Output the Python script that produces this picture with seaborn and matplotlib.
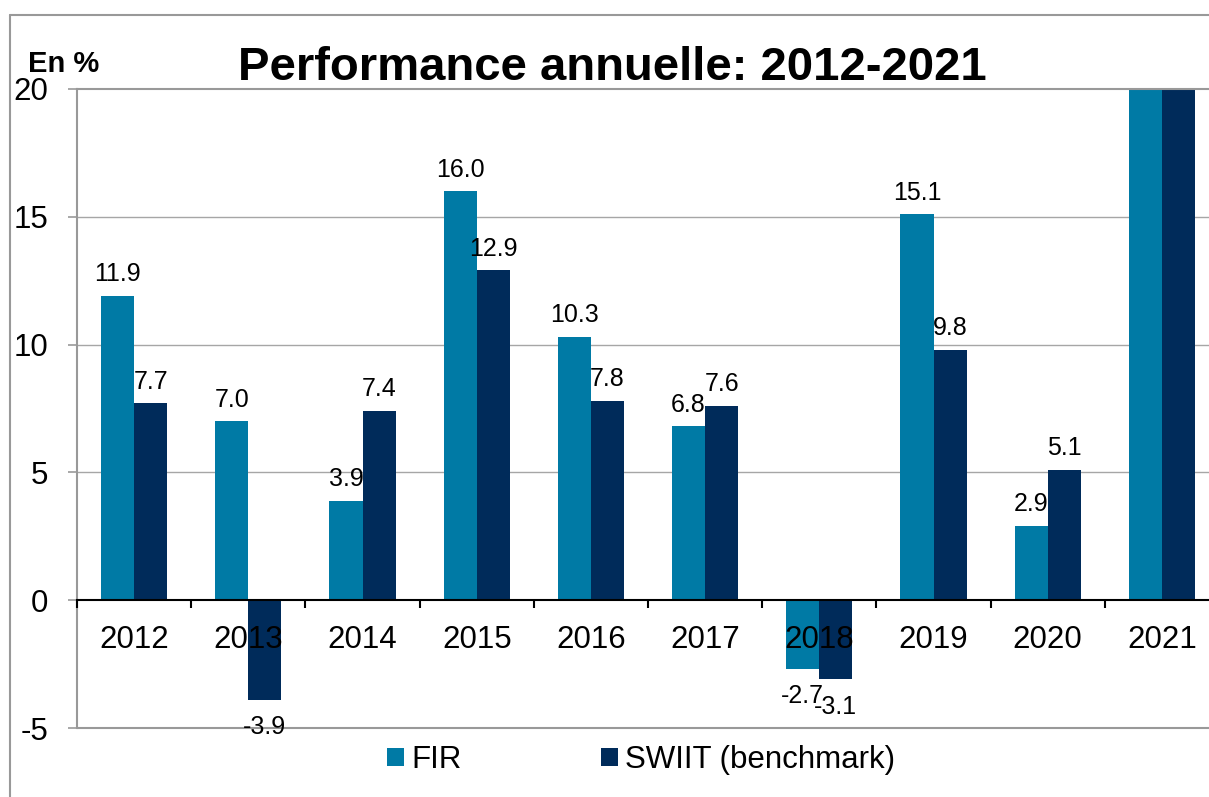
import matplotlib
matplotlib.use('Agg')
import matplotlib.pyplot as plt
import seaborn as sns
import pandas as pd
from matplotlib.patches import Patch
from matplotlib.lines import Line2D
from matplotlib.ticker import FixedLocator

years = ['2012', '2013', '2014', '2015', '2016', '2017', '2018', '2019', '2020', '2021']
fir = [11.9, 7.0, 3.9, 16.0, 10.3, 6.8, -2.7, 15.1, 2.9, 22.0]
swiit = [7.7, -3.9, 7.4, 12.9, 7.8, 7.6, -3.1, 9.8, 5.1, 22.0]
series_names = ['FIR', 'SWIIT (benchmark)']
colors = ['#007AA5', '#002B5A']
y_ticks = [-5, 0, 5, 10, 15, 20]

sns.set_theme(style='white')
plt.rcParams['font.family'] = ['Liberation Sans', 'DejaVu Sans']
plt.rcParams['axes.unicode_minus'] = False
plt.rcParams['text.color'] = 'black'
plt.rcParams['xtick.color'] = 'black'
plt.rcParams['ytick.color'] = 'black'
plt.rcParams['axes.labelcolor'] = 'black'

df = pd.DataFrame({
    'year': years * 2,
    'value': fir + swiit,
    'series': [series_names[0]] * len(years) + [series_names[1]] * len(years),
})

fig = plt.figure(figsize=(12.09, 7.97), dpi=100)
ax = fig.add_axes([77 / 1209, 1 - 728 / 797, 1142 / 1209, (728 - 89) / 797])

sns.barplot(data=df, x='year', y='value', hue='series', palette=colors,
            width=0.58, ax=ax, legend=False, edgecolor='none', saturation=1)

ax.set_ylim(-5, 20)
ax.set_xlim(-0.5, 9.5)
ax.set_xlabel('')
ax.set_ylabel('')

# value labels (skip bars above the axis), a bit more room under negative bars
for cont, vals in zip(ax.containers, [fir, swiit]):
    pos = ['%.1f' % v if 0 <= v <= 20 else '' for v in vals]
    neg = ['%.1f' % v if v < 0 else '' for v in vals]
    ax.bar_label(cont, labels=pos, padding=7, fontsize=18, color='black')
    ax.bar_label(cont, labels=neg, padding=11, fontsize=18, color='black')

# gridlines under the bars, axis (tick labels) drawn over them
ax.set_axisbelow(False)
for t in y_ticks[2:-1]:
    ax.axhline(t, color='#a6a6a6', lw=1, zorder=0.5)
ax.set_yticks(y_ticks)
ax.tick_params(axis='y', which='major', direction='out', length=6.5, width=1.2,
               color='#999999', labelcolor='black', labelsize=22.5, pad=14, left=True)
ax.spines['left'].set_color('#999999')
ax.spines['left'].set_linewidth(1.5)
ax.spines['top'].set_color('#999999')
ax.spines['top'].set_linewidth(1.5)
ax.spines['right'].set_visible(False)
ax.spines['bottom'].set_position(('data', 0))
ax.spines['bottom'].set_color('black')
ax.spines['bottom'].set_linewidth(1.5)
ax.spines['bottom'].set_zorder(3)
ax.axhline(-5, color='#999999', lw=1.5, clip_on=False, zorder=0.6)

ax.xaxis.set_minor_locator(FixedLocator([i - 0.5 for i in range(len(years) + 1)]))
ax.tick_params(axis='x', which='major', length=0, labelsize=22.5, labelcolor='black', pad=18)
ax.tick_params(axis='x', which='minor', direction='out', length=6, width=1.5,
               color='black', bottom=True)

# outer frame
fig.add_artist(Line2D([10 / 1209, 10 / 1209], [0, 1 - 15 / 797], transform=fig.transFigure,
                      color='#999999', lw=1.5))
fig.add_artist(Line2D([10 / 1209, 1], [1 - 15 / 797, 1 - 15 / 797], transform=fig.transFigure,
                      color='#999999', lw=1.5))

fig.text(612 / 1209, 1 - 80 / 797, 'Performance annuelle: 2012-2021', ha='center', va='baseline',
         fontsize=34, fontweight='bold', color='black')
fig.text(28 / 1209, 1 - 72 / 797, 'En %', ha='left', va='baseline', fontsize=21,
         fontweight='bold', color='black')

handles = [Patch(facecolor=c, edgecolor='none') for c in colors]
fig.legend(handles, series_names, loc='center left', bbox_to_anchor=(387 / 1209, 1 - 760 / 797),
           ncol=2, frameon=False, fontsize=22.5, borderpad=0, borderaxespad=0,
           handlelength=0.55, handleheight=0.55, handletextpad=0.22, columnspacing=4.45)

fig.savefig('out.png', dpi=100)
